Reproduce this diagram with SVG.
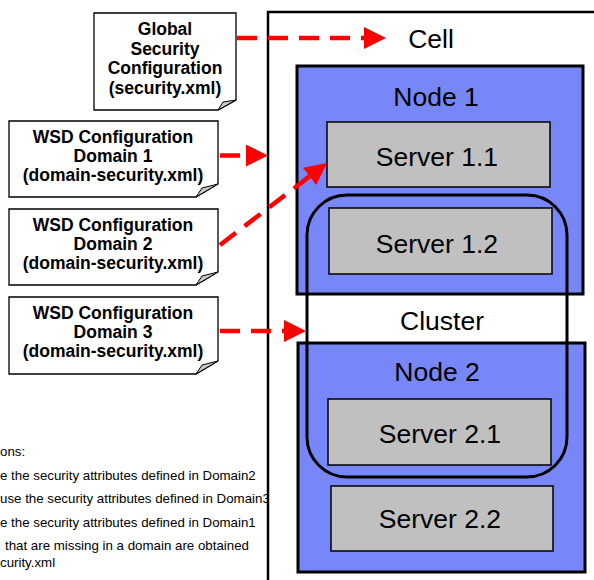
<svg xmlns="http://www.w3.org/2000/svg" width="594" height="580" viewBox="0 0 594 580">
<defs>
<style>
.doc{fill:#fff;stroke:#000;stroke-width:1.3}
.fold{fill:#c8c8c8;stroke:#000;stroke-width:1}
.dt{font-family:"Liberation Sans",Arial,sans-serif;font-weight:bold;font-size:17.5px;text-anchor:middle;fill:#000}
.lbl{font-family:"Liberation Sans",Arial,sans-serif;font-size:26.5px;text-anchor:middle;fill:#000}
.node{fill:#7887f8;stroke:#000;stroke-width:3}
.srv{fill:#c0c0c0;stroke:#000;stroke-width:1.5}
.note{font-family:"Liberation Sans",Arial,sans-serif;font-size:13.3px;fill:#000}
.arr{fill:none;stroke:#ff0000;stroke-width:4.5;stroke-dasharray:20 11}
</style>
<marker id="ah" markerUnits="userSpaceOnUse" markerWidth="22" markerHeight="22" refX="0" refY="11" orient="auto" viewBox="0 0 22 22">
<path d="M0,0 L22,11 L0,22 Z" fill="#ff0000"/>
</marker>
</defs>

<g id="notes">
<text class="note" x="0" y="456">ons:</text>
<text class="note" x="0" y="480">e the security attributes defined in Domain2</text>
<text class="note" x="0" y="503">use the security attributes defined in Domain3</text>
<text class="note" x="0" y="527">e the security attributes defined in Domain1</text>
<text class="note" x="5" y="550">that are missing in a domain are obtained</text>
<text class="note" x="0" y="567">curity.xml</text>
</g>

<g id="cell">
<rect x="268" y="12" width="400" height="600" fill="#fff" stroke="#000" stroke-width="2.5"/>
<text class="lbl" x="431" y="48">Cell</text>
</g>

<g id="node1">
<rect class="node" x="297" y="66" width="286" height="228"/>
<text class="lbl" x="436" y="106">Node 1</text>
</g>
<g id="server11">
<rect class="srv" x="327" y="122" width="223" height="65"/>
<text class="lbl" x="437" y="166">Server 1.1</text>
</g>
<g id="server12">
<rect class="srv" x="329" y="208" width="223" height="66"/>
<text class="lbl" x="437" y="253">Server 1.2</text>
</g>

<g id="node2">
<rect class="node" x="298" y="343" width="287" height="229"/>
<text class="lbl" x="437" y="381">Node 2</text>
</g>
<g id="server21">
<rect class="srv" x="328" y="399" width="223" height="66"/>
<text class="lbl" x="440" y="443">Server 2.1</text>
</g>
<g id="server22">
<rect class="srv" x="331" y="486" width="222" height="65"/>
<text class="lbl" x="440" y="528">Server 2.2</text>
</g>

<g id="cluster">
<rect x="307" y="195" width="260" height="282" rx="40" ry="40" fill="none" stroke="#000" stroke-width="3"/>
<text class="lbl" x="442" y="330">Cluster</text>
</g>

<g id="global">
<path class="doc" d="M94,13 H236 V100 L218,110 H94 Z"/>
<path class="fold" d="M218,110 L223,102 L236,100 Z"/>
<text class="dt" x="165" y="35">Global</text>
<text class="dt" x="165" y="55">Security</text>
<text class="dt" x="165" y="74">Configuration</text>
<text class="dt" x="165" y="94">(security.xml)</text>
</g>

<g id="domain1">
<path class="doc" d="M9,121 H218 V184 L196,197 H9 Z"/>
<path class="fold" d="M196,197 L202,188 L218,184 Z"/>
<text class="dt" x="113" y="143">WSD Configuration</text>
<text class="dt" x="113" y="162">Domain 1</text>
<text class="dt" x="113" y="181">(domain-security.xml)</text>
</g>

<g id="domain2">
<path class="doc" d="M9,209 H218 V272 L196,285 H9 Z"/>
<path class="fold" d="M196,285 L202,276 L218,272 Z"/>
<text class="dt" x="113" y="231">WSD Configuration</text>
<text class="dt" x="113" y="250">Domain 2</text>
<text class="dt" x="113" y="269">(domain-security.xml)</text>
</g>

<g id="domain3">
<path class="doc" d="M9,297 H218 V361 L196,374 H9 Z"/>
<path class="fold" d="M196,374 L202,365 L218,361 Z"/>
<text class="dt" x="113" y="319">WSD Configuration</text>
<text class="dt" x="113" y="338">Domain 3</text>
<text class="dt" x="113" y="357">(domain-security.xml)</text>
</g>

<g id="connectors">
<line class="arr" x1="237" y1="38" x2="364" y2="38" marker-end="url(#ah)"/>
<line class="arr" x1="220" y1="155.5" x2="246" y2="155.5" marker-end="url(#ah)"/>
<line class="arr" x1="220" y1="245" x2="309.5" y2="176.4" marker-end="url(#ah)"/>
<line class="arr" x1="220" y1="331" x2="284" y2="331" marker-end="url(#ah)"/>
</g>
</svg>
